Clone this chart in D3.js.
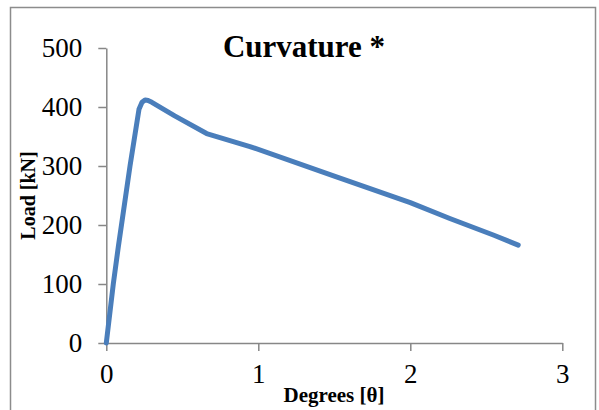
<!DOCTYPE html>
<html>
<head>
<meta charset="utf-8">
<script src="https://cdn.jsdelivr.net/npm/d3@7/dist/d3.min.js"></script>
<style>
  html, body { margin: 0; padding: 0; background: #fff; }
  svg { display: block; }
  text { font-family: "Liberation Serif", "Times New Roman", serif; fill: #000; }
</style>
</head>
<body>
<svg id="chart" width="599" height="410"></svg>
<script>
// Load–rotation curve (degrees vs. kN)
const degrees = [0, 0.046, 0.079, 0.156, 0.215, 0.235, 0.255, 0.275, 0.30, 0.45, 0.66, 0.945, 1.5, 2.0, 2.26, 2.546, 2.71];
const load    = [0, 100, 163, 300, 396, 408, 412, 411, 408, 385, 355, 333, 283, 238, 211, 183, 166];
const xTicks = [0, 1, 2, 3];
const yTicks = [0, 100, 200, 300, 400, 500];
const title = "Curvature *";
const xTitle = "Degrees [θ]";
const yTitle = "Load [kN]";

const svg = d3.select("#chart");
const axisColor = "#878787";

// outer frame
svg.append("rect")
  .attr("x", 10.5).attr("y", 7.5)
  .attr("width", 585).attr("height", 410)
  .attr("fill", "none").attr("stroke", "#8c8c8c").attr("stroke-width", 1.5);

const x = d3.scaleLinear().domain([0, 3]).range([106.3, 562.3]);
const y = d3.scaleLinear().domain([0, 500]).range([343, 48]);

// y axis
const yAxis = svg.append("g")
  .attr("transform", `translate(${x(0)},0)`)
  .call(d3.axisLeft(y).tickValues(yTicks).tickSize(8).tickPadding(16).tickSizeOuter(0));
// x axis
const xAxis = svg.append("g")
  .attr("transform", `translate(0,${y(0)})`)
  .call(d3.axisBottom(x).tickValues(xTicks).tickFormat(d3.format("d"))
    .tickSize(8).tickPadding(16).tickSizeOuter(0));

[yAxis, xAxis].forEach(g => {
  g.select(".domain").attr("stroke", axisColor).attr("stroke-width", 1.5);
  g.selectAll(".tick line").attr("stroke", axisColor).attr("stroke-width", 1.5);
  g.selectAll(".tick text")
    .attr("font-family", "Liberation Serif, serif")
    .attr("font-size", 27).attr("fill", "#000");
});
xAxis.selectAll(".tick text").attr("dy", "0.6em");

// data line
const line = d3.line()
  .x((d, i) => x(degrees[i]))
  .y((d, i) => y(load[i]))
  .curve(d3.curveLinear);

svg.append("path")
  .datum(load)
  .attr("d", line)
  .attr("fill", "none")
  .attr("stroke", "#4a7ebb")
  .attr("stroke-width", 5)
  .attr("stroke-linejoin", "round")
  .attr("stroke-linecap", "round");

// titles
svg.append("text")
  .attr("x", 304).attr("y", 57.3)
  .attr("text-anchor", "middle")
  .attr("font-weight", "bold").attr("font-size", 31)
  .text(title);

svg.append("text")
  .attr("x", 334).attr("y", 402)
  .attr("text-anchor", "middle")
  .attr("font-weight", "bold").attr("font-size", 21)
  .text(xTitle);

svg.append("text")
  .attr("transform", "translate(35,195.5) rotate(-90)")
  .attr("text-anchor", "middle")
  .attr("font-weight", "bold").attr("font-size", 20)
  .text(yTitle);
</script>
</body>
</html>
